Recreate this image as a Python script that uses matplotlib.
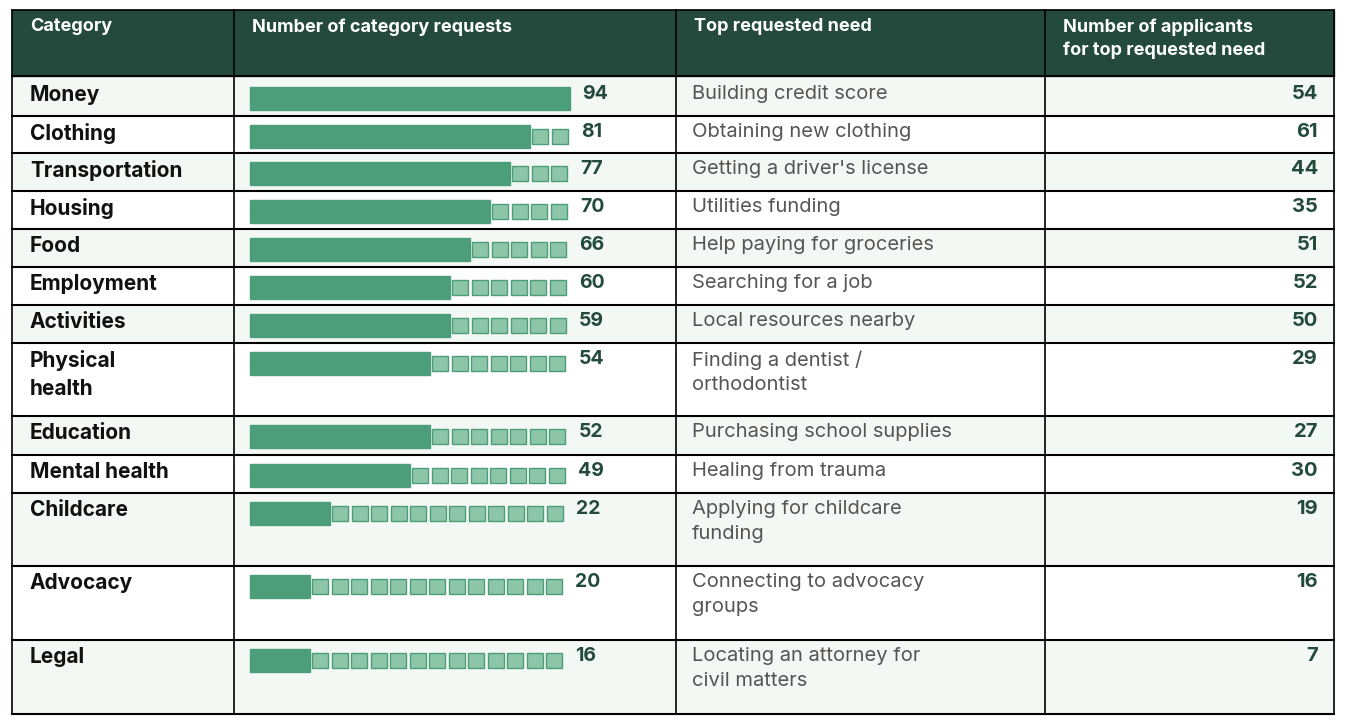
import matplotlib.pyplot as plt
from matplotlib.patches import Rectangle

categories = ['Money', 'Clothing', 'Transportation', 'Housing', 'Food', 'Employment',
              'Activities', 'Physical\nhealth', 'Education', 'Mental health', 'Childcare',
              'Advocacy', 'Legal']
requests = [94, 81, 77, 70, 66, 60, 59, 54, 52, 49, 22, 20, 16]
top_need = ['Building credit score', 'Obtaining new clothing', "Getting a driver's license",
            'Utilities funding', 'Help paying for groceries', 'Searching for a job',
            'Local resources nearby', 'Finding a dentist /\northodontist',
            'Purchasing school supplies', 'Healing from trauma',
            'Applying for childcare\nfunding', 'Connecting to advocacy\ngroups',
            'Locating an attorney for\ncivil matters']
applicants = [54, 61, 44, 35, 51, 52, 50, 29, 27, 30, 19, 16, 7]
headers = ['Category', 'Number of category requests', 'Top requested need',
           'Number of applicants\nfor top requested need']

W, H = 1346, 726
fig = plt.figure(figsize=(W / 100, H / 100), dpi=100)
ax = fig.add_axes([0, 0, 1, 1])
ax.set_xlim(0, W)
ax.set_ylim(H, 0)
ax.axis('off')

dark = '#234a3d'
green = '#4c9e7a'
cols = [12, 234, 676, 1045, 1334]
row_edges = [78, 116, 153, 191, 229, 267, 305, 343, 416, 455, 493, 566, 640, 714]
font = 'Poppins'
plt.rcParams['font.family'] = ['Inter', 'DejaVu Sans']

# header
ax.add_patch(Rectangle((cols[0], 10), cols[-1] - cols[0], 66, color=dark, zorder=1))
for i, h in enumerate(headers):
    ax.text(cols[i] + 18, 18, h, color='white', fontsize=13, fontweight='bold',
            va='top', ha='left', linespacing=1.45)

for r in range(len(categories)):
    y0, y1 = row_edges[r], row_edges[r + 1]
    bg = '#f3f8f4' if r % 2 == 0 else 'white'
    ax.add_patch(Rectangle((cols[0], y0), cols[-1] - cols[0], y1 - y0, color=bg, zorder=0))
    ax.plot([cols[0], cols[-1]], [y1, y1], color='black', lw=1.5, zorder=3)
    ax.text(cols[0] + 18, y0 + 7, categories[r], fontsize=15, fontweight='bold',
            color='#111111', va='top', linespacing=1.5)
    ax.text(cols[2] + 16, y0 + 7, top_need[r], fontsize=14.5, color='#555555',
            va='top', linespacing=1.5)
    ax.text(cols[4] - 16, y0 + 7, str(applicants[r]), fontsize=14.5, fontweight='bold',
            color=dark, va='top', ha='right')
    # bar: solid blocks plus light squares up to 16 units
    n = round(requests[r] / max(requests) * 16)
    bx, by = 250, y0 + 9
    ax.add_patch(Rectangle((bx, by), n * 20, 23, color=green, zorder=2))
    for k in range(n, 16):
        if k == n:
            sx = bx + n * 20 + 1
        ax.add_patch(Rectangle((bx + k * 20 - (k - n) * 0.5 + 2, by + 4), 16, 15,
                               facecolor='#8cc5a8', edgecolor=green, lw=1, zorder=2))
    end = bx + 16 * 20 - (16 - n) * 0.5 if n < 16 else bx + 320
    ax.text(end + 12, y0 + 7, str(requests[r]), fontsize=14, fontweight='bold',
            color=dark, va='top')

# borders
ax.plot([cols[0], cols[-1]], [row_edges[0] - 2, row_edges[0] - 2], color='black', lw=1.5, zorder=3)
for x in cols:
    ax.plot([x, x], [10, row_edges[-1]], color='black', lw=1.2, zorder=3)
ax.plot([cols[0], cols[-1]], [10, 10], color='black', lw=1.2, zorder=3)

fig.savefig('out.png', dpi=100)
